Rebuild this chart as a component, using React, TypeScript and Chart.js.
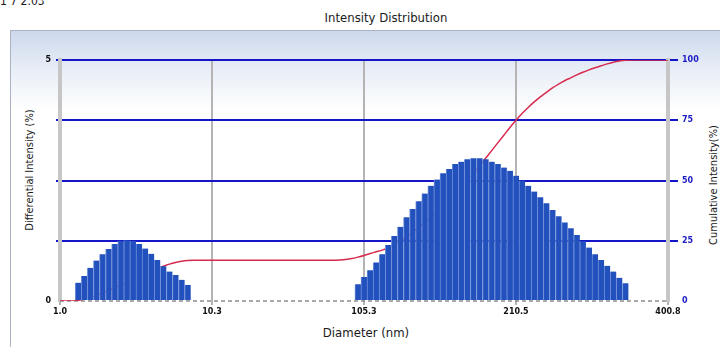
import React, { useEffect, useRef } from 'react';
import { Chart, registerables } from 'chart.js';

Chart.register(...registerables);

// ---- data ----
const xTickLabels = ['1.0', '10.3', '105.3', '210.5', '400.8'];
const binCount = 100; // size bins between 1.0 and 400.8 nm
const labelEvery = 25;

const peak1Start = 3;
const peak1Values = [
  0.38, 0.52, 0.69, 0.84, 0.97, 1.08, 1.18, 1.25, 1.26, 1.25,
  1.18, 1.09, 0.98, 0.85, 0.72, 0.61, 0.54, 0.44, 0.33,
];

const peak2Start = 49;
const peak2Values = [
  0.35, 0.5, 0.64, 0.8, 0.97, 1.16, 1.35, 1.54, 1.74, 1.91,
  2.07, 2.23, 2.39, 2.52, 2.65, 2.74, 2.84, 2.89, 2.94, 2.96,
  2.96, 2.94, 2.89, 2.84, 2.77, 2.7, 2.6, 2.5, 2.39, 2.27,
  2.15, 2.03, 1.89, 1.76, 1.63, 1.51, 1.37, 1.24, 1.11, 0.97,
  0.85, 0.73, 0.61, 0.48, 0.37,
];

const cumulativeValues = [
  0, 0, 0, 0.3, 0.8, 1.5, 2.3, 3.3, 4.4, 5.6,
  6.8, 8.1, 9.3, 10.5, 11.6, 12.6, 13.5, 14.4, 15.3, 16.0,
  16.5, 16.8, 16.9, 16.9, 16.9, 16.9, 16.9, 16.9, 16.9, 16.9,
  16.9, 16.9, 16.9, 16.9, 16.9, 16.9, 16.9, 16.9, 16.9, 16.9,
  16.9, 16.9, 16.9, 16.9, 16.9, 16.9, 17.0, 17.2, 17.6, 18.2,
  18.9, 19.7, 20.4, 21.1, 22.1, 23.4, 25.0, 26.7, 28.5, 30.5,
  32.6, 34.8, 37.1, 39.5, 42.0, 44.6, 47.3, 50.1, 53.0, 56.0,
  59.2, 62.4, 65.6, 68.8, 72.0, 75.0, 77.8, 80.3, 82.6, 84.7,
  86.6, 88.4, 90.0, 91.4, 92.6, 93.8, 94.9, 95.9, 96.8, 97.6,
  98.4, 99.1, 99.6, 99.9, 100, 100, 100, 100, 100, 100,
  100,
];

const leftShownTicks = [0, 5];
const leftMax = 5;
const rightMax = 100;

const FONT = "'DejaVu Sans Condensed', 'DejaVu Sans', sans-serif";

// dashed zero baseline under the bars
const baselinePlugin = {
  id: 'dashedBaseline',
  beforeDatasetsDraw(chart: any) {
    const { ctx, chartArea } = chart;
    ctx.save();
    ctx.strokeStyle = '#8e8e8e';
    ctx.lineWidth = 1.5;
    ctx.setLineDash([4, 3]);
    ctx.beginPath();
    ctx.moveTo(chartArea.left, chartArea.bottom);
    ctx.lineTo(chartArea.right, chartArea.bottom);
    ctx.stroke();
    ctx.restore();
  },
};

export default function App() {
  const canvasRef = useRef<HTMLCanvasElement | null>(null);

  useEffect(() => {
    const canvas = canvasRef.current;
    if (!canvas) return;

    const barData: { x: number; y: number }[] = [];
    peak1Values.forEach((v, i) => barData.push({ x: peak1Start + i, y: v }));
    peak2Values.forEach((v, i) => barData.push({ x: peak2Start + i, y: v }));
    const lineData = cumulativeValues.map((v, i) => ({ x: i, y: v }));

    const tickFont = { family: "'DejaVu Sans', sans-serif", size: 8, weight: 'bold' as const };

    const chart = new Chart(canvas, {
      type: 'bar',
      data: {
        datasets: [
          {
            type: 'bar',
            data: barData as any,
            backgroundColor: '#2251bd',
            borderColor: '#6f90da',
            borderWidth: { left: 1, right: 0, top: 0, bottom: 0 } as any,
            barPercentage: 1,
            categoryPercentage: 1,
            xAxisID: 'x',
            yAxisID: 'y',
            order: 1,
          },
          {
            type: 'line',
            data: lineData as any,
            borderColor: '#d62b4e',
            borderWidth: 1.5,
            pointRadius: 0,
            cubicInterpolationMode: 'monotone',
            xAxisID: 'x',
            yAxisID: 'y2',
            order: 2,
          },
        ],
      },
      options: {
        responsive: false,
        animation: false,
        devicePixelRatio: 1,
        plugins: {
          legend: { display: false },
          tooltip: { enabled: false },
          title: { display: false },
        },
        layout: { padding: { top: 60, left: 0, right: 0, bottom: 0 } },
        scales: {
          x: {
            type: 'linear',
            min: 0,
            max: binCount,
            offset: false,
            afterBuildTicks: (s: any) => {
              s.ticks = xTickLabels.map((_, i) => ({ value: i * labelEvery }));
            },
            ticks: {
              autoSkip: false,
              maxRotation: 0,
              padding: 2,
              color: '#111',
              font: tickFont,
              callback: (v: any) => {
                const idx = Number(v) / labelEvery;
                return Number.isInteger(idx) ? xTickLabels[idx] ?? '' : '';
              },
            },
            grid: { color: '#b4b4b4', lineWidth: 2, tickLength: 4, offset: false },
            border: { display: false },
            afterFit: (s: any) => {
              s.height = 46;
            },
          },
          y: {
            type: 'linear',
            position: 'left',
            min: 0,
            max: leftMax,
            ticks: {
              stepSize: leftMax / 4,
              padding: 5,
              color: '#111',
              font: tickFont,
              callback: (v: any) => (leftShownTicks.includes(Number(v)) ? String(v) : ''),
            },
            grid: {
              color: (ctx: any) => (ctx.tick && ctx.tick.value === 0 ? 'rgba(0,0,0,0)' : '#1515c8'),
              lineWidth: 2,
              tickLength: 4,
            },
            border: { display: true, color: '#c6c6c6', width: 4 },
            afterFit: (s: any) => {
              s.width = 60;
            },
          },
          y2: {
            type: 'linear',
            position: 'right',
            min: 0,
            max: rightMax,
            ticks: {
              stepSize: 25,
              padding: 4,
              color: '#1c1cc4',
              font: tickFont,
            },
            grid: {
              drawOnChartArea: false,
              color: (ctx: any) => (ctx.tick && ctx.tick.value === 0 ? 'rgba(0,0,0,0)' : '#1515c8'),
              lineWidth: 2,
              tickLength: 10,
            },
            border: { display: true, color: '#c6c6c6', width: 4 },
            afterFit: (s: any) => {
              s.width = 52;
            },
          },
        },
      } as any,
      plugins: [baselinePlugin],
    });

    return () => {
      chart.destroy();
    };
  }, []);

  const textBase: React.CSSProperties = {
    position: 'absolute',
    fontFamily: FONT,
    color: '#1a1a1a',
    whiteSpace: 'nowrap',
    lineHeight: 1,
  };

  return (
    <div
      style={{
        position: 'fixed',
        left: 0,
        top: 0,
        width: 720,
        height: 347,
        background: '#ffffff',
        overflow: 'hidden',
      }}
    >
      <div
        style={{
          position: 'absolute',
          left: 10,
          top: 30,
          width: 720,
          height: 340,
          borderLeft: '1px solid #a9b3c4',
          borderTop: '1px solid #a9b3c4',
          background: 'linear-gradient(to bottom, #cdd8ec 0px, #e6ecf6 35px, #ffffff 80px)',
        }}
      />
      <div style={{ ...textBase, left: 0, top: -5, fontSize: 12 }}>1 7 2.03</div>
      <div style={{ ...textBase, left: 386, top: 17, fontSize: 13, transform: 'translate(-50%, -50%)' }}>
        Intensity Distribution
      </div>
      <div style={{ ...textBase, left: 366, top: 332, fontSize: 13, transform: 'translate(-50%, -50%)' }}>
        Diameter (nm)
      </div>
      <div
        style={{
          ...textBase,
          left: 29,
          top: 170,
          fontSize: 11,
          transform: 'translate(-50%, -50%) rotate(-90deg)',
        }}
      >
        Differential Intensity (%)
      </div>
      <div
        style={{
          ...textBase,
          left: 713,
          top: 185,
          fontSize: 11,
          transform: 'translate(-50%, -50%) rotate(-90deg)',
        }}
      >
        Cumulative Intensity(%)
      </div>
      <canvas
        ref={canvasRef}
        width={720}
        height={347}
        style={{ position: 'absolute', left: 0, top: 0, width: 720, height: 347 }}
      />
    </div>
  );
}
